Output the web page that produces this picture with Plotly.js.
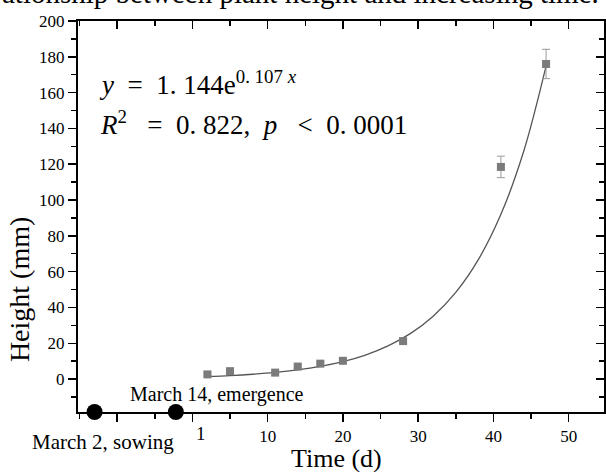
<!DOCTYPE html>
<html>
<head>
<meta charset="utf-8">
<script src="https://cdn.plot.ly/plotly-3.0.1.min.js"></script>
<style>html,body{margin:0;padding:0;background:#fff;}#chart{width:606px;height:472px;}</style>
</head>
<body>
<div id="chart"></div>
<script>
// Measured plant heights (mm) by day
var days = [2, 5, 11, 14, 17, 20, 28, 41, 47];
var heights = [2.6, 4.4, 3.6, 7.0, 8.6, 10.2, 21.2, 118.5, 176.0];
var heightErr = [0.8, 0.8, 0.6, 0.8, 0.9, 1.0, 1.2, 6.0, 8.2];

// Fitted curve y = 1.144e^(0.107x)
var fitX = [2, 5, 8, 11, 14, 17, 20, 23, 26, 29, 32, 35, 38, 41, 44, 47];
var fitY = [1.42, 1.95, 2.69, 3.71, 5.12, 7.05, 9.72, 13.4, 18.5, 25.5, 35.1, 48.4, 66.7, 92.0, 126.8, 174.8];

// Key dates marked on the time axis
var eventX = [-13, -2.2];
var eventLabels = ["March 2, sowing", "March 14, emergence"];

// Axis ticks
var xTickVals = [-10, 0, 10, 20, 30, 40, 50];
var xTickText = ["", "", "10", "20", "30", "40", "50"];
var xMinorVals = [-15, -5, 5, 15, 25, 35, 45];
var yTickVals = [0, 20, 40, 60, 80, 100, 120, 140, 160, 180, 200];
var yMinorVals = [-10, 10, 30, 50, 70, 90, 110, 130, 150, 170, 190];

var xRange = [-15.2, 54.7];
var yRange = [-18.4, 200];

var serif = "Liberation Serif, Times New Roman, serif";
var NB = "\u00a0";

var traces = [
  {
    x: fitX, y: fitY, type: "scatter", mode: "lines",
    line: {color: "#555555", width: 1.3, shape: "spline"},
    hoverinfo: "skip", showlegend: false
  },
  {
    x: days, y: heights, type: "scatter", mode: "markers",
    marker: {symbol: "square", size: 8, color: "#7b7b7b"},
    error_y: {type: "data", array: heightErr, visible: true, color: "#9a9a9a", thickness: 1, width: 4},
    showlegend: false
  },
  {
    x: eventX, y: [yRange[0], yRange[0]], type: "scatter", mode: "markers",
    marker: {size: 16, color: "#000"}, cliponaxis: false, showlegend: false, hoverinfo: "skip"
  },
  {
    x: [xRange[0]], y: [yRange[0]], xaxis: "x2", yaxis: "y2", type: "scatter", mode: "markers",
    marker: {opacity: 0}, showlegend: false, hoverinfo: "skip"
  }
];

var common = {showgrid: false, zeroline: false, showline: true, linecolor: "#000", linewidth: 2,
  tickcolor: "#000", tickwidth: 1.5, fixedrange: true};

var layout = {
  width: 606, height: 472,
  margin: {l: 78, r: 2, t: 21, b: 60},
  paper_bgcolor: "#fff", plot_bgcolor: "#fff",
  font: {family: serif, color: "#000", size: 17},
  showlegend: false,
  xaxis: Object.assign({}, common, {
    range: xRange, tickmode: "array", tickvals: xTickVals, ticktext: xTickText,
    ticks: "outside", ticklen: 8, tickfont: {family: serif, size: 17},
    minor: {tickmode: "array", tickvals: xMinorVals, ticks: "outside", ticklen: 5, tickwidth: 1.5, tickcolor: "#000", showgrid: false}
  }),
  yaxis: Object.assign({}, common, {
    range: yRange, tickmode: "array", tickvals: yTickVals,
    ticks: "outside", ticklen: 8, tickfont: {family: serif, size: 17},
    minor: {tickmode: "array", tickvals: yMinorVals, ticks: "outside", ticklen: 5, tickwidth: 1.5, tickcolor: "#000", showgrid: false}
  }),
  xaxis2: Object.assign({}, common, {
    range: xRange, overlaying: "x", side: "top", anchor: "y2", tickmode: "array", tickvals: xTickVals,
    ticks: "inside", ticklen: 8, showticklabels: false,
    minor: {tickmode: "array", tickvals: xMinorVals, ticks: "inside", ticklen: 5, tickwidth: 1.5, tickcolor: "#000", showgrid: false}
  }),
  yaxis2: Object.assign({}, common, {
    range: yRange, overlaying: "y", side: "right", anchor: "x2", tickmode: "array", tickvals: yTickVals,
    ticks: "inside", ticklen: 8, showticklabels: false,
    minor: {tickmode: "array", tickvals: yMinorVals, ticks: "inside", ticklen: 5, tickwidth: 1.5, tickcolor: "#000", showgrid: false}
  }),
  annotations: [
    {text: "ationship between plant height and increasing time.", xref: "paper", yref: "paper",
     x: -0.148, y: 1.071, xanchor: "left", yanchor: "middle", showarrow: false,
     font: {family: serif, size: 29, color: "#000"}},
    {text: "<i>y</i>" + NB + NB + "=" + NB + NB + "1." + NB + "144e<sup>0." + NB + "107" + NB + "<i>x</i></sup>",
     xref: "paper", yref: "paper", x: 0.036, y: 0.842, xanchor: "left", yanchor: "middle", showarrow: false,
     font: {family: serif, size: 27, color: "#000"}},
    {text: "<i>R</i><sup>2</sup>" + NB + NB + NB + "=" + NB + NB + "0." + NB + "822," + NB + NB + "<i>p</i>" + NB + NB + NB + "<" + NB + NB + "0." + NB + "0001",
     xref: "paper", yref: "paper", x: 0.038, y: 0.738, xanchor: "left", yanchor: "middle", showarrow: false,
     font: {family: serif, size: 27, color: "#000"}},
    {text: eventLabels[1], xref: "paper", yref: "paper", x: 0.264, y: 0.0435, xanchor: "center", yanchor: "middle",
     showarrow: false, font: {family: serif, size: 20, color: "#000"}},
    {text: eventLabels[0], xref: "paper", yref: "paper", x: 0.0475, y: -0.076, xanchor: "center", yanchor: "middle",
     showarrow: false, font: {family: serif, size: 21, color: "#000"}},
    {text: "1", xref: "x", yref: "paper", x: 1.1, y: -0.054, xanchor: "center", yanchor: "middle",
     showarrow: false, font: {family: serif, size: 19, color: "#000"}},
    {text: "Time (d)", xref: "paper", yref: "paper", x: 0.492, y: -0.119, xanchor: "center", yanchor: "middle",
     showarrow: false, font: {family: serif, size: 26, color: "#000"}},
    {text: "Height (mm)", xref: "paper", yref: "paper", x: -0.112, y: 0.312, xanchor: "center", yanchor: "middle",
     textangle: -90, showarrow: false, font: {family: serif, size: 28, color: "#000"}}
  ]
};

Plotly.newPlot("chart", traces, layout, {displayModeBar: false, staticPlot: true});
</script>
</body>
</html>
